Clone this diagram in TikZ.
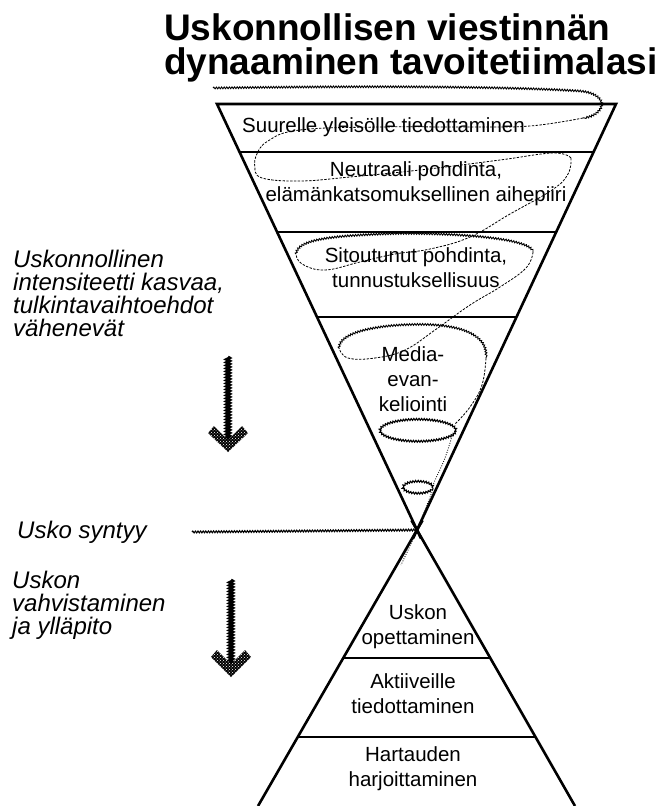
\documentclass[tikz,border=0pt]{standalone}
\usepackage{fontspec}
\setmainfont{Liberation Sans}
\usetikzlibrary{calc,decorations.pathmorphing,patterns}
\begin{document}
\begin{tikzpicture}[x=1pt,y=-1pt,
  edge/.style={line width=2.6pt, line join=miter, line cap=butt},
  divider/.style={line width=2.1pt},
  wavyline/.style={line width=0.9pt, decorate, decoration={snake, amplitude=0.9pt, segment length=2.6pt}},
  dashline/.style={line width=0.8pt, dash pattern=on 2.4pt off 1.4pt},
  dotline/.style={line width=0.9pt, dash pattern=on 0.8pt off 1.6pt},
  celltext/.style={font=\fontsize{20.5}{25}\selectfont, align=center, inner sep=0pt},
  sidetext/.style={font=\itshape\fontsize{24}{23}\selectfont, align=left, inner sep=0pt},
  hatch/.style={fill=black, postaction={pattern color=white, pattern=crosshatch dots}},
  shaft/.style={line width=3pt, decorate, decoration={snake, amplitude=1.5pt, segment length=3pt}},
]
\useasboundingbox[fill=white] (0,0) rectangle (661,806);

% corners of the hourglass
\coordinate (TL) at (217,104);
\coordinate (TR) at (616,104);
\coordinate (X) at (417,530);
\coordinate (BL) at (258,806);
\coordinate (BR) at (575,806);

% title (anchor = baseline of the last line)
\node[anchor=base west, font=\bfseries\fontsize{37}{34}\selectfont, align=left, inner sep=0pt] (title) at (164,74)
  {Uskonnollisen viestinnän\\dynaaminen tavoitetiimalasi};

% upper funnel
\draw[edge] ($(TL)!1.02!(X)$) -- (TL) -- (TR) -- ($(TR)!1.02!(X)$);
\draw[divider] ($(TL)!0.1127!(X)$) -- ($(TR)!0.1127!(X)$);
\draw[divider] ($(TL)!0.3005!(X)$) -- ($(TR)!0.3005!(X)$);
\draw[divider] ($(TL)!0.5!(X)$) -- ($(TR)!0.5!(X)$);

% lower triangle
\draw[edge] ($(BL)!1.035!(X)$) -- (BL);
\draw[edge] ($(BR)!1.035!(X)$) -- (BR);
\draw[divider] ($(X)!0.4638!(BL)$) -- ($(X)!0.4638!(BR)$);
\draw[divider] ($(X)!0.75!(BL)$) -- ($(X)!0.75!(BR)$);

% cell texts
\node[celltext, anchor=west] (t1) at (242,127) {Suurelle yleisölle tiedottaminen};
\node[celltext] (t2) at (416,184) {Neutraali pohdinta,\\elämänkatsomuksellinen aihepiiri};
\node[celltext] (t3) at (416,268) {Sitoutunut pohdinta,\\tunnustuksellisuus};
\node[celltext] (t4) at (413,379) {Media-\\evan-\\keliointi};
\node[celltext] (b1) at (418,627) {Uskon\\opettaminen};
\node[celltext] (b2) at (413,694) {Aktiiveille\\tiedottaminen};
\node[celltext] (b3) at (413,769) {Hartauden\\harjoittaminen};

% side texts (anchor = baseline of the last line)
\node[sidetext, anchor=base west] (s1) at (13,336) {Uskonnollinen\\intensiteetti kasvaa,\\tulkintavaihtoehdot\\vähenevät};
\node[sidetext, anchor=base west] (s2) at (17,538) {Usko syntyy};
\node[sidetext, anchor=base west] (s3) at (12,634) {Uskon\\vahvistaminen\\ja ylläpito};

% wavy line to the crossing
\coordinate (wl) at (192,532);
\draw[wavyline, line width=1.1pt] (wl) -- (X);

% hatched arrows
\coordinate (a1top) at (228,357);
\coordinate (a1end) at (228,443);
\coordinate (a2top) at (231,580);
\coordinate (a2end) at (231,666);
\draw[shaft] (a1top) -- (a1end);
\fill[hatch] (208,433) -- (214,426) -- (228,440) -- (242,426) -- (248,433) -- (228,452) -- cycle;
\draw[shaft] (a2top) -- (a2end);
\fill[hatch] (211,657) -- (217,650) -- (231,664) -- (245,650) -- (251,657) -- (231,677) -- cycle;

% spiral
\draw[wavyline] (213,88) .. controls (350,86) and (500,86) .. (580,91)
  .. controls (600,93) and (606,104) .. (597,112) .. controls (593,116) and (588,117) .. (583,118);
\draw[dashline] plot[smooth, tension=0.7] coordinates {(583,118) (530,126) (470,127) (380,127) (300,130) (268,141) (256,156) (255,168)};
\draw[dashline] plot[smooth, tension=0.7] coordinates {(255,168) (262,178) (300,181) (350,177) (420,170) (500,160) (553,153) (571,158)};
\draw[dashline] plot[smooth, tension=0.7] coordinates {(571,158) (568,174) (552,190) (510,214) (470,237) (430,249) (395,254) (360,262) (325,270) (302,264) (296,254)};
\draw[wavyline] (296,254) .. controls (298,240) and (330,236) .. (400,234) .. controls (470,234) and (530,240) .. (533,252);
\draw[dashline] plot[smooth, tension=0.7] coordinates {(533,252) (526,268) (500,287) (470,305) (435,330) (405,350) (375,358) (348,358) (339,348)};
\draw[wavyline] (339,348) .. controls (340,332) and (380,325) .. (420,325) .. controls (460,325) and (488,335) .. (486,358);
\draw[dashline] plot[smooth, tension=0.7] coordinates {(486,358) (482,385) (470,407) (455,424)};
\draw[wavyline, line width=1.1pt] (418,431) ellipse [x radius=38pt, y radius=11pt];
\draw[dotline] plot[smooth, tension=0.7] coordinates {(452,436) (445,458) (436,478) (433,485)};
\draw[wavyline, line width=1.1pt] (418,488) ellipse [x radius=15pt, y radius=6pt];
\draw[dotline] plot[smooth, tension=0.7] coordinates {(432,492) (425,510) (417,530) (409,548) (401,565)};
\end{tikzpicture}
\end{document}
